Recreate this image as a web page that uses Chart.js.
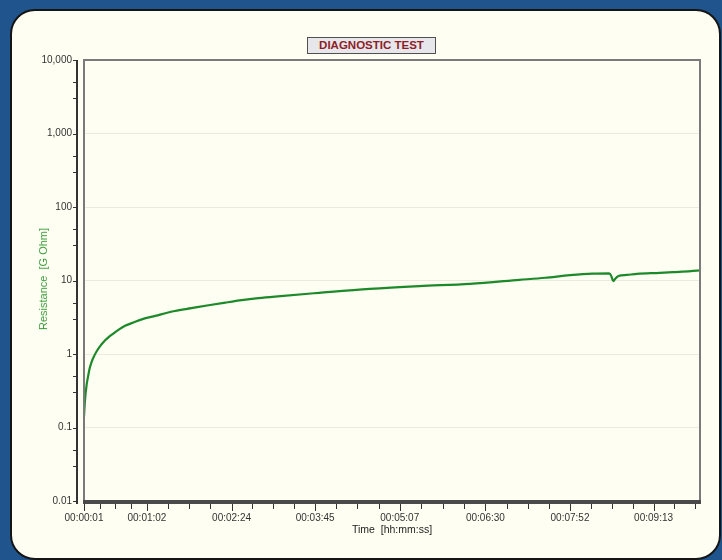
<!DOCTYPE html>
<html>
<head>
<meta charset="utf-8">
<script src="https://cdn.jsdelivr.net/npm/chart.js@4.4.1/dist/chart.umd.min.js"></script>
<style>
  html, body { margin: 0; padding: 0; }
  body { width: 722px; height: 560px; background: #1f548c; position: relative; overflow: hidden; font-family: "Liberation Sans", Arial, sans-serif; }
  #panel { position: absolute; left: 10px; top: 9px; width: 707px; height: 547px; background: #fefef2; border: 2.5px solid #151515; border-radius: 25px; }
  #chart { position: absolute; left: 0; top: 0; }
  #title { position: absolute; left: 307px; top: 37px; width: 127px; height: 15px; line-height: 15px; background: #e7e7eb; border: 1.5px solid #505050; text-align: center; font-weight: bold; font-size: 11.5px; color: #8c1f27; }
  #ytitle { position: absolute; left: 43px; top: 279px; transform: translate(-50%, -50%) rotate(-90deg); white-space: pre; font-size: 11px; color: #3c9c3c; }
  #xtitle { position: absolute; left: 392px; top: 529px; transform: translate(-50%, -50%); white-space: pre; font-size: 10.5px; color: #222; }
</style>
</head>
<body>
<div id="panel"></div>
<canvas id="chart" width="722" height="560"></canvas>
<div id="title">DIAGNOSTIC TEST</div>
<div id="ytitle">Resistance  [G Ohm]</div>
<div id="xtitle">Time  [hh:mm:ss]</div>
<script>
// elapsed time in seconds and insulation resistance in G Ohm
const timeSeconds = [
  1, 2, 3.6, 5, 6.5, 8.5, 11, 13.3, 17, 20, 24.6, 30, 35, 40.8, 50, 57, 70,
  89, 105, 121.7, 138, 154, 170, 186, 229, 278, 326, 375, 423, 448, 472,
  494, 510, 512, 514, 516, 519, 527, 537, 559, 572, 589, 598
];
const resistance = [
  0.14, 0.24, 0.385, 0.5, 0.64, 0.79, 0.95, 1.09, 1.3, 1.46, 1.68, 1.92, 2.16, 2.42, 2.72, 2.96, 3.3,
  3.85, 4.2, 4.6, 5.0, 5.4, 5.75, 6.05, 6.8, 7.7, 8.4, 9.0, 10.2, 10.9, 11.8,
  12.4, 12.5, 11.5, 9.8, 10.6, 11.5, 11.9, 12.3, 12.7, 13.0, 13.4, 13.7
];

// axis ticks
const xMajorSeconds = [1, 62, 144, 225, 307, 390, 472, 553];
const xMajorLabels = ['00:00:01', '00:01:02', '00:02:24', '00:03:45', '00:05:07', '00:06:30', '00:07:52', '00:09:13'];
const xMax = 598;
const yMajorValues = [0.01, 0.1, 1, 10, 100, 1000, 10000];
const yMajorLabels = ['0.01', '0.1', '1', '10', '100', '1,000', '10,000'];
const yMinorFactors = [3, 5];

// minor x ticks: quarters between the labelled ones
const xTicks = [];
xMajorSeconds.forEach((s, i) => {
  const next = xMajorSeconds[i + 1];
  const step = next ? (next - s) / 4 : (s - xMajorSeconds[i - 1]) / 4;
  for (let k = 0; k < 4; k++) {
    const v = s + k * step;
    if (v <= xMax) xTicks.push(v);
  }
});
const yTicks = [];
yMajorValues.forEach(v => {
  yTicks.push(v);
  if (v < 10000) yMinorFactors.forEach(f => yTicks.push(v * f));
});

const axisDecor = {
  id: 'axisDecor',
  afterDraw(chart) {
    const c = chart.ctx;
    const a = chart.chartArea;
    const xs = chart.scales.x;
    const ys = chart.scales.y;
    c.save();
    // plot frame
    c.strokeStyle = '#7a7a7a';
    c.lineWidth = 2;
    c.strokeRect(a.left, a.top, a.right - a.left, a.bottom - a.top);
    c.strokeStyle = '#4a4a4a';
    c.lineWidth = 4;
    c.beginPath();
    c.moveTo(a.left - 1, a.bottom + 1);
    c.lineTo(a.right + 1, a.bottom + 1);
    c.stroke();
    // y axis line and tick marks
    const ax = a.left - 7;
    c.strokeStyle = '#333';
    c.lineWidth = 2;
    c.beginPath();
    c.moveTo(ax, a.top);
    c.lineTo(ax, a.bottom + 3);
    c.stroke();
    c.lineWidth = 1;
    c.beginPath();
    ys.ticks.forEach(t => {
      const py = Math.round(ys.getPixelForValue(t.value)) + 0.5;
      c.moveTo(ax, py);
      c.lineTo(ax - 4, py);
    });
    // x tick marks
    xs.ticks.forEach(t => {
      const px = Math.round(xs.getPixelForValue(t.value)) + 0.5;
      const len = xMajorSeconds.includes(t.value) ? 7 : 5;
      c.moveTo(px, a.bottom + 3);
      c.lineTo(px, a.bottom + 3 + len);
    });
    c.stroke();
    c.restore();
  }
};

const ctx = document.getElementById('chart');
new Chart(ctx, {
  type: 'line',
  data: {
    datasets: [{
      label: 'Resistance',
      data: timeSeconds.map((t, i) => ({ x: t, y: resistance[i] })),
      borderColor: '#1d8a2a',
      borderWidth: 2.2,
      pointRadius: 0,
      cubicInterpolationMode: 'monotone'
    }]
  },
  options: {
    responsive: false,
    animation: false,
    devicePixelRatio: 1,
    layout: { padding: { left: 0, top: 60, right: 22, bottom: 0 } },
    plugins: {
      legend: { display: false },
      tooltip: { enabled: false }
    },
    scales: {
      x: {
        type: 'linear',
        min: 1,
        max: xMax,
        afterFit: s => { s.height = 59; },
        afterBuildTicks: s => { s.ticks = xTicks.map(v => ({ value: v })); },
        grid: { display: false, drawTicks: false },
        border: { display: false },
        ticks: {
          autoSkip: false,
          maxRotation: 0,
          padding: 11,
          color: '#333',
          font: { family: 'Liberation Sans', size: 10 },
          callback: v => {
            const i = xMajorSeconds.indexOf(v);
            return i >= 0 ? xMajorLabels[i] : '';
          }
        }
      },
      y: {
        type: 'logarithmic',
        min: 0.01,
        max: 10000,
        afterFit: s => { s.width = 84; },
        afterBuildTicks: s => { s.ticks = yTicks.map(v => ({ value: v })); },
        grid: {
          drawTicks: false,
          color: c => (c.tick && yMajorValues.includes(c.tick.value)) ? '#ecebdd' : 'rgba(0,0,0,0)'
        },
        border: { display: false },
        ticks: {
          autoSkip: false,
          padding: 12,
          color: '#333',
          font: { family: 'Liberation Sans', size: 10 },
          callback: v => {
            const i = yMajorValues.indexOf(v);
            return i >= 0 ? yMajorLabels[i] : '';
          }
        }
      }
    }
  },
  plugins: [axisDecor]
});
</script>
</body>
</html>
